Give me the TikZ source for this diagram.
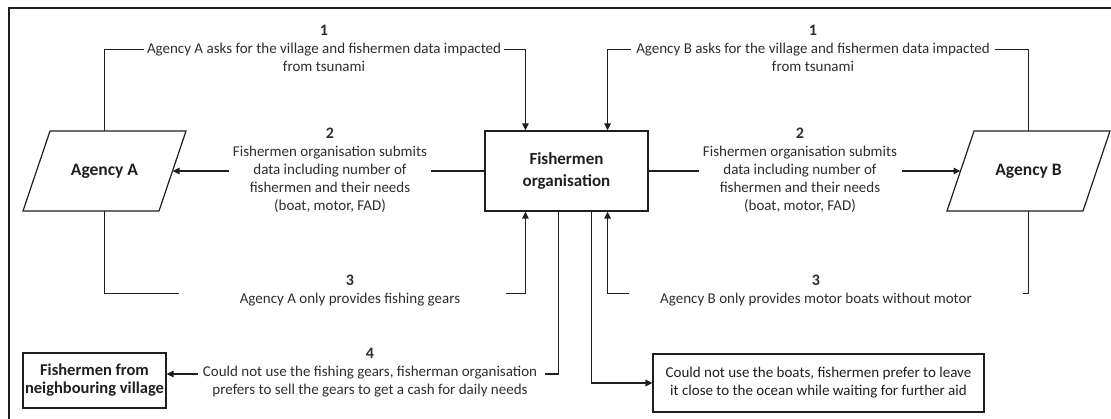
\documentclass[tikz,border=0pt]{standalone}
\usepackage{fontspec}
\setmainfont{Carlito}
\usetikzlibrary{arrows.meta,calc}

\tikzset{
  wire/.style={draw=black!88, line width=1.2pt},
  arr/.style={wire, -{Triangle[length=7pt,width=6.5pt]}},
  boxnode/.style={draw=black!88, line width=1.2pt, rectangle, inner sep=0pt,
    align=center, text=black!88},
  % invisible core of a slanted data box; the outline is drawn from its anchors
  paracore/.style={rectangle, minimum width=136pt, minimum height=80pt,
    inner sep=0pt, outer sep=0pt, text=black!88,
    font=\fontsize{17.5}{20}\selectfont\bfseries},
  lbl/.style={align=center, inner sep=0pt, text=black!82,
    font=\fontsize{15}{18}\selectfont},
}
\newcommand{\sr}{\strut}
\newcommand{\stepno}[1]{\strut{\fontsize{16}{18}\selectfont\bfseries #1}}
\newcommand{\slantbox}[1]{%
  \draw[wire] ([xshift=13.5pt]#1.north west) -- ([xshift=13.5pt]#1.north east)
    -- ([xshift=-13.5pt]#1.south east) -- ([xshift=-13.5pt]#1.south west) -- cycle;}

\begin{document}
\begin{tikzpicture}[x=1pt,y=-1pt]
\useasboundingbox (0,0) rectangle (1111,419);

% outer frame
\draw[wire] (9,419) -- (9,8) -- (1111,8);

% actors
\node[paracore] (A) at (104.5,171) {Agency A};
\slantbox{A}
\node[paracore] (B) at (1028.5,171) {Agency B};
\slantbox{B}
\node[boxnode, minimum width=163pt, minimum height=80pt,
      font=\fontsize{17}{21.5}\selectfont\bfseries] (F) at (566.5,171)
      {Fishermen\\organisation};
\node[boxnode, minimum width=143pt, minimum height=55pt,
      font=\fontsize{16.5}{18}\selectfont\bfseries] (N) at (94.5,380.5)
      {Fishermen from\\neighbouring village};
\node[boxnode, minimum width=331pt, minimum height=58pt,
      font=\fontsize{15}{18}\selectfont] (W) at (818.5,383)
      {Could not use the boats, fishermen prefer to leave\\it close to the ocean while waiting for further aid};

% labels
\node[lbl] (L1a) at (324,49.5) {\stepno{1}\\\sr Agency A asks for the village and fishermen data impacted\\\sr from tsunami};
\node[lbl] (L1b) at (813,49.5) {\stepno{1}\\\sr Agency B asks for the village and fishermen data impacted\\\sr from tsunami};
\node[lbl] (L2a) at (330,170.5) {\stepno{2}\\\sr Fishermen organisation submits\\\sr data including number of\\\sr fishermen and their needs\\\sr (boat, motor, FAD)};
\node[lbl] (L2b) at (800,170.5) {\stepno{2}\\\sr Fishermen organisation submits\\\sr data including number of\\\sr fishermen and their needs\\\sr (boat, motor, FAD)};
\node[lbl] (L3a) at (350,291) {\stepno{3}\\\sr Agency A only provides fishing gears};
\node[lbl] (L3b) at (816,291) {\stepno{3}\\\sr Agency B only provides motor boats without motor};
\node[lbl] (L4) at (370,373) {\stepno{4}\\\sr Could not use the fishing gears, fisherman organisation\\\sr prefers to sell the gears to get a cash for daily needs};

% attachment points on the organisation box
\coordinate (Ft1) at ($(F.north west)!0.25!(F.north east)$);
\coordinate (Ft2) at ($(F.north west)!0.75!(F.north east)$);
\coordinate (Fb1) at ($(F.south west)!0.25!(F.south east)$);
\coordinate (Fb2) at ($(F.south west)!0.45!(F.south east)$);
\coordinate (Fb3) at ($(F.south west)!0.65!(F.south east)$);
\coordinate (Fb4) at ($(F.south west)!0.75!(F.south east)$);

% free ends beside the step 3 and 4 texts
\coordinate (c3al) at (179,293.5);
\coordinate (c3ar) at (506,293.5);
\coordinate (c3bl) at (629,293.5);
\coordinate (c3br) at (1023,293.5);
\coordinate (c4r) at (545,374);
\coordinate (c4l) at (198,374);

% step 1
\draw[wire] (A.north) |- ([xshift=-3pt]L1a.west);
\draw[arr] ([xshift=3pt]L1a.east) -| (Ft1);
\draw[arr] ([xshift=-5pt]L1b.west) -| (Ft2);
\draw[wire] ([xshift=5pt]L1b.east) -| (B.north);

% step 2
\draw[wire] (F.west) -- ([xshift=4pt]L2a.east |- F.west);
\draw[arr] ([xshift=-4pt]L2a.west |- A.east) -- (A.east);
\draw[wire] (F.east) -- ([xshift=-4pt]L2b.west |- F.east);
\draw[arr] ([xshift=5pt]L2b.east |- B.west) -- (B.west);

% step 3
\draw[wire] (A.south) |- (c3al);
\draw[arr] (c3ar) -| (Fb1);
\draw[arr] (c3bl) -| (Fb4);
\draw[wire] (B.south) |- (c3br);

% step 4 and outcome
\draw[wire] (Fb2) |- (c4r);
\draw[arr] (c4l) -- (N.east |- c4l);
\draw[arr] (Fb3) |- (W.west);
\end{tikzpicture}
\end{document}
